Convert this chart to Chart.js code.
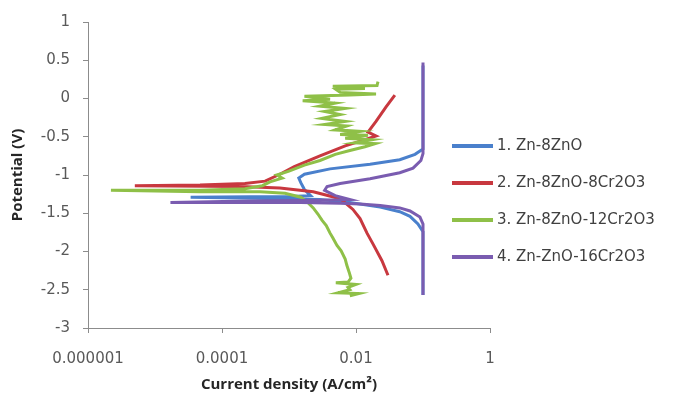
<!DOCTYPE html>
<html>
<head>
<meta charset="utf-8">
<script src="https://cdn.jsdelivr.net/npm/chart.js@4.4.1/dist/chart.umd.min.js"></script>
<style>
  html, body { margin: 0; padding: 0; background: #fff; }
  #wrap { position: relative; width: 673px; height: 398px; }
  #legend { position: absolute; left: 452px; top: 0; font-family: "DejaVu Sans", sans-serif; font-size: 15px; color: #404040; }
  .item { position: absolute; left: 0; white-space: nowrap; height: 20px; line-height: 20px; }
  .swatch { display: inline-block; width: 41px; height: 4px; vertical-align: middle; margin-right: 4px; }
</style>
</head>
<body>
<div id="wrap">
  <canvas id="chart-tafel" width="673" height="398"></canvas>
  <div id="legend"></div>
</div>
<script>
// tick labels
var xTickValues = [0.000001, 0.0001, 0.01, 1];
var xTickLabels = ['0.000001', '0.0001', '0.01', '1'];

var seriesNames = ['1. Zn-8ZnO', '2. Zn-8ZnO-8Cr2O3', '3. Zn-8ZnO-12Cr2O3', '4. Zn-ZnO-16Cr2O3'];
var seriesColors = ['#4a80cc', '#c8383f', '#8fc048', '#7a5cb0'];

// 1. Zn-8ZnO  (current A/cm2, potential V)
var blueCurrent = [0.1, 0.1, 0.084, 0.064, 0.045, 0.023, 0.0081, 0.0029, 7.3e-4, 1.9e-4, 3.4e-5, 2.6e-4, 1.0e-3, 2.1e-3, 1.7e-3, 1.5e-3, 1.4e-3, 1.7e-3, 4.1e-3, 0.0162, 0.045, 0.076, 0.1, 0.1];
var bluePotential = [-2.57, -1.74, -1.64, -1.54, -1.48, -1.42, -1.36, -1.32, -1.31, -1.30, -1.29, -1.285, -1.28, -1.27, -1.19, -1.10, -1.04, -0.99, -0.92, -0.86, -0.80, -0.73, -0.66, 0.43];

// 2. Zn-8ZnO-8Cr2O3
var redCurrent = [0.030, 0.0244, 0.0179, 0.0146, 0.0115, 0.0090, 0.0058, 0.0023, 7.3e-4, 1.9e-4, 5.0e-6, 4.7e-5, 2.2e-4, 4.4e-4, 7.3e-4, 1.2e-3, 2.9e-3, 6.9e-3, 0.0123, 0.0199, 0.0151, 0.0199, 0.0281, 0.038];
var redPotential = [-2.31, -2.12, -1.90, -1.76, -1.57, -1.45, -1.31, -1.22, -1.17, -1.15, -1.14, -1.13, -1.11, -1.08, -0.99, -0.89, -0.75, -0.62, -0.55, -0.49, -0.44, -0.30, -0.11, 0.045];

// 3. Zn-8ZnO-12Cr2O3
var greenCurrent = [8.1e-3, 0.011, 5.4e-3, 8.1e-3, 7.6e-3, 0.010, 5.0e-3, 7.6e-3, 8.4e-3, 7.9e-3, 7.3e-3, 6.9e-3, 6.0e-3, 5.2e-3, 4.5e-3, 4.1e-3, 3.6e-3, 3.1e-3, 2.7e-3, 2.3e-3, 1.9e-3, 1.5e-3, 8.7e-4, 3.7e-4, 4.7e-5, 2.2e-6,
  4.7e-5, 2.2e-4, 4.0e-4, 5.2e-4, 7.9e-4, 6.6e-4, 1.0e-3, 1.7e-3, 2.9e-3, 4.9e-3, 8.1e-3, 0.0136, 0.0192, 9.7e-3, 0.0173, 6.9e-3, 0.0151, 5.8e-3, 0.0115, 4.9e-3, 7.3e-3, 3.4e-3, 6.9e-3, 3.1e-3, 5.8e-3, 3.4e-3, 6.9e-3, 2.9e-3, 4.9e-3, 1.6e-3, 4.1e-3, 1.7e-3, 8.1e-3, 0.0199, 5.8e-3, 5.0e-3, 0.0136, 4.5e-3, 0.0206, 0.0213];
var greenPotential = [-2.58, -2.55, -2.54, -2.50, -2.47, -2.43, -2.41, -2.40, -2.35, -2.27, -2.18, -2.10, -1.99, -1.92, -1.82, -1.76, -1.66, -1.59, -1.51, -1.43, -1.36, -1.29, -1.24, -1.22, -1.22, -1.20,
  -1.20, -1.18, -1.14, -1.09, -1.04, -1.00, -0.95, -0.87, -0.81, -0.73, -0.68, -0.63, -0.59, -0.58, -0.54, -0.52, -0.48, -0.47, -0.43, -0.41, -0.36, -0.34, -0.30, -0.26, -0.21, -0.17, -0.13, -0.10, -0.06, -0.03, -0.01, 0.03, 0.045, 0.06, 0.08, 0.12, 0.13, 0.16, 0.17, 0.22];

// 4. Zn-ZnO-16Cr2O3
var purpleCurrent = [0.1, 0.1, 0.090, 0.064, 0.045, 0.023, 0.0115, 0.0058, 1.5e-3, 1.9e-4, 1.7e-5, 2.6e-4, 2.9e-3, 8.1e-3, 4.9e-3, 3.4e-3, 3.7e-3, 5.8e-3, 0.0162, 0.045, 0.071, 0.093, 0.1, 0.1];
var purplePotential = [-2.57, -1.64, -1.55, -1.47, -1.43, -1.40, -1.38, -1.37, -1.36, -1.36, -1.36, -1.34, -1.33, -1.32, -1.27, -1.20, -1.15, -1.11, -1.05, -0.97, -0.91, -0.81, -0.72, 0.47];

function pts(xs, ys) {
  return xs.map(function (v, i) { return { x: v, y: ys[i] }; });
}

var allData = [
  pts(blueCurrent, bluePotential),
  pts(redCurrent, redPotential),
  pts(greenCurrent, greenPotential),
  pts(purpleCurrent, purplePotential)
];

var datasets = allData.map(function (d, i) {
  return {
    label: seriesNames[i],
    data: d,
    showLine: true,
    borderColor: seriesColors[i],
    backgroundColor: seriesColors[i],
    borderWidth: 3,
    pointRadius: 0,
    tension: 0,
    order: 4 - i // later series drawn on top
  };
});

var tickFont = { family: 'DejaVu Sans', size: 15 };
var titleFont = { family: 'Open Sans', size: 15, weight: 'bold' };

var ctx = document.getElementById('chart-tafel').getContext('2d');
var myChart = new Chart(ctx, {
  type: 'scatter',
  data: { datasets: datasets },
  options: {
    responsive: false,
    animation: false,
    layout: { padding: { left: 0, right: 183, top: 15, bottom: 0 } },
    plugins: { legend: { display: false }, tooltip: { enabled: false } },
    scales: {
      x: {
        type: 'logarithmic',
        min: 0.000001,
        max: 1,
        afterBuildTicks: function (scale) {
          scale.ticks = xTickValues.map(function (v) { return { value: v }; });
        },
        afterFit: function (scale) { scale.height = 70; },
        ticks: {
          font: tickFont,
          color: '#595959',
          padding: 17,
          maxRotation: 0,
          callback: function (value) {
            var k = xTickValues.indexOf(value);
            return k >= 0 ? xTickLabels[k] : '';
          }
        },
        grid: { drawOnChartArea: false, tickLength: 5, color: '#8c8c8c' },
        border: { display: true, color: '#8c8c8c', width: 1 },
        title: { display: true, text: 'Current density (A/cm²)', font: titleFont, color: '#262626', padding: { top: 0, bottom: 4 } }
      },
      y: {
        min: -3,
        max: 1,
        afterFit: function (scale) { scale.width = 88; },
        ticks: {
          stepSize: 0.5,
          font: tickFont,
          color: '#595959',
          padding: 13,
          callback: function (value) { return String(Number(value.toFixed(1))); }
        },
        grid: { drawOnChartArea: false, tickLength: 5, color: '#8c8c8c' },
        border: { display: true, color: '#8c8c8c', width: 1 },
        title: { display: true, text: 'Potential (V)', font: titleFont, color: '#262626', padding: { top: 9, bottom: 0 } }
      }
    }
  }
});

// legend, placed like the original (overlapping right end of the plot)
var legendTops = [135, 172, 209, 246];
var legend = document.getElementById('legend');
seriesNames.forEach(function (name, i) {
  var item = document.createElement('div');
  item.className = 'item';
  item.style.top = legendTops[i] + 'px';
  item.innerHTML = '<span class="swatch" style="background:' + seriesColors[i] + '"></span>' + name;
  legend.appendChild(item);
});
</script>
</body>
</html>
